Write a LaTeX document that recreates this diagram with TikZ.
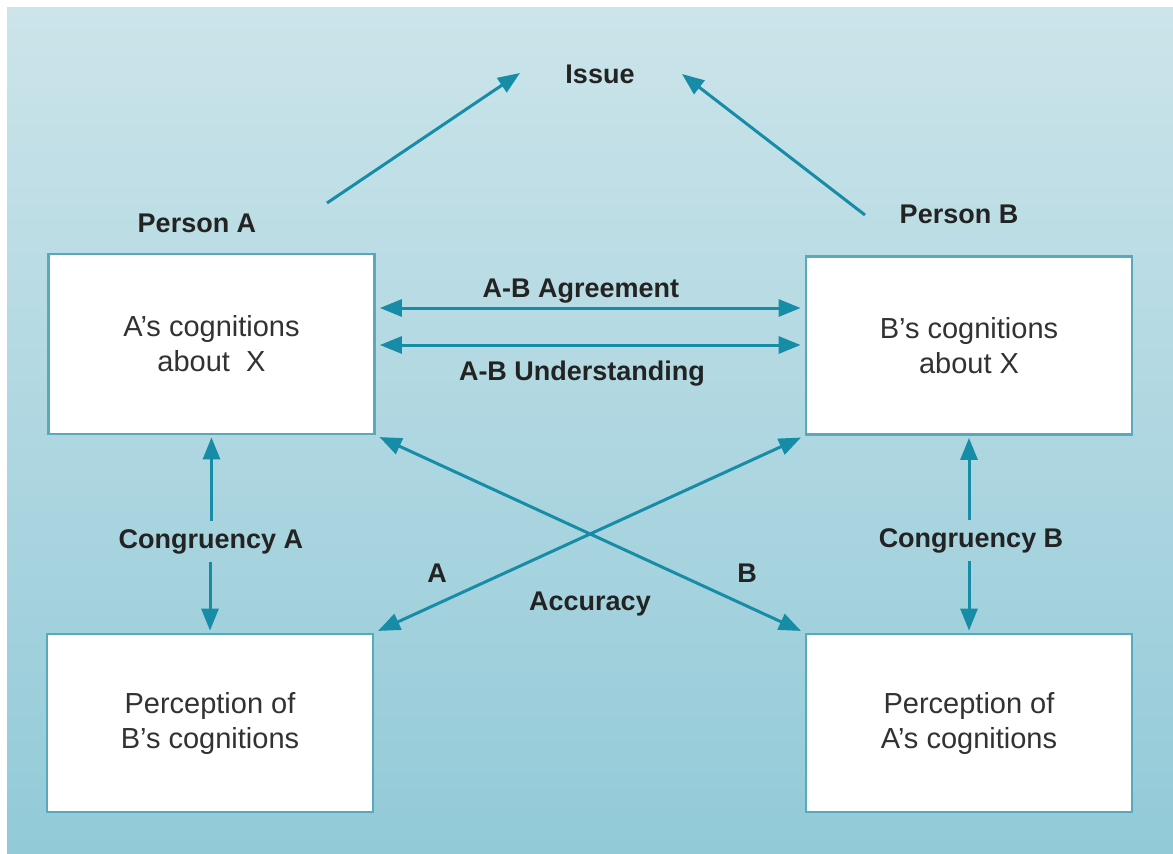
\documentclass[tikz,border=0pt]{standalone}
\usepackage{fontspec}
\setmainfont{Liberation Sans}
\usetikzlibrary{arrows.meta}
\definecolor{arrcol}{RGB}{22,140,166}
\definecolor{boxline}{RGB}{90,168,188}
\definecolor{bgtop}{RGB}{204,228,234}
\definecolor{bgbot}{RGB}{146,202,216}
\definecolor{txt}{RGB}{35,35,35}
\definecolor{boxtxt}{RGB}{50,50,50}
\tikzset{
  box/.style={draw=boxline, line width=2.8pt, fill=white, minimum width=326pt, minimum height=178pt,
    inner sep=0pt, align=center, font=\fontsize{29}{35}\selectfont, text=boxtxt},
  lbl/.style={font=\bfseries\fontsize{27}{32}\selectfont, text=txt, inner sep=0pt, anchor=base},
  arr/.style={draw=arrcol, line width=3pt, -{Triangle[length=22pt,width=17pt]}},
  dbl/.style={draw=arrcol, line width=3pt, {Triangle[length=22pt,width=17pt]}-{Triangle[length=22pt,width=17pt]}}
}
\begin{document}
\begin{tikzpicture}[x=1pt,y=-1pt]
\useasboundingbox (0,0) rectangle (1173,854);
\shade[top color=bgtop, bottom color=bgbot] (7,7) rectangle (1173,854);

% boxes
\node[box, minimum height=180pt] (A) at (211.5,344) {A’s cognitions\\about\ \ X};
\node[box] (B) at (969,345.5) {B’s cognitions\\about X};
\node[box] (PB) at (210,723) {Perception of\\B’s cognitions};
\node[box] (PA) at (969,723) {Perception of\\A’s cognitions};

% labels
\node[lbl] (issue) at (600,83) {Issue};
\node[lbl] (pa) at (197,232) {Person A};
\node[lbl] (pb) at (959,223) {Person B};
\node[lbl] (agr) at (581,297) {A-B Agreement};
\node[lbl] (und) at (582,380) {A-B Understanding};
\node[lbl] (acc) at (590,610) {Accuracy};
\node[lbl] (la) at (437,582) {A};
\node[lbl] (lb) at (747,582) {B};
\node[lbl, inner ysep=8pt] (ca) at (211,548) {Congruency A};
\node[lbl, inner ysep=8pt] (cb) at (971,547) {Congruency B};

% issue arrows
\coordinate (iL0) at (327,203);
\coordinate (iL1) at (520,73);
\coordinate (iR0) at (865,215);
\coordinate (iR1) at (682,74);
\draw[arr] (iL0) -- (iL1);
\draw[arr] (iR0) -- (iR1);

% agreement / understanding
\draw[dbl, shorten <=4pt, shorten >=4pt] (A.east |- 0,308) -- (B.west |- 0,308);
\draw[dbl, shorten <=4pt, shorten >=4pt] (A.east |- 0,345) -- (B.west |- 0,345);

% accuracy cross
\draw[dbl, shorten <=4pt, shorten >=4pt] (A.south east) -- (PA.north west);
\draw[dbl, shorten <=4pt, shorten >=4pt] (B.south west) -- (PB.north east);

% congruency
\draw[arr, shorten >=2pt] (A.south |- ca.north) -- (A.south);
\draw[arr, shorten >=2pt] (PB.north |- ca.south) -- (PB.north);
\draw[arr, shorten >=2pt] (B.south |- cb.north) -- (B.south);
\draw[arr, shorten >=2pt] (PA.north |- cb.south) -- (PA.north);
\end{tikzpicture}
\end{document}
